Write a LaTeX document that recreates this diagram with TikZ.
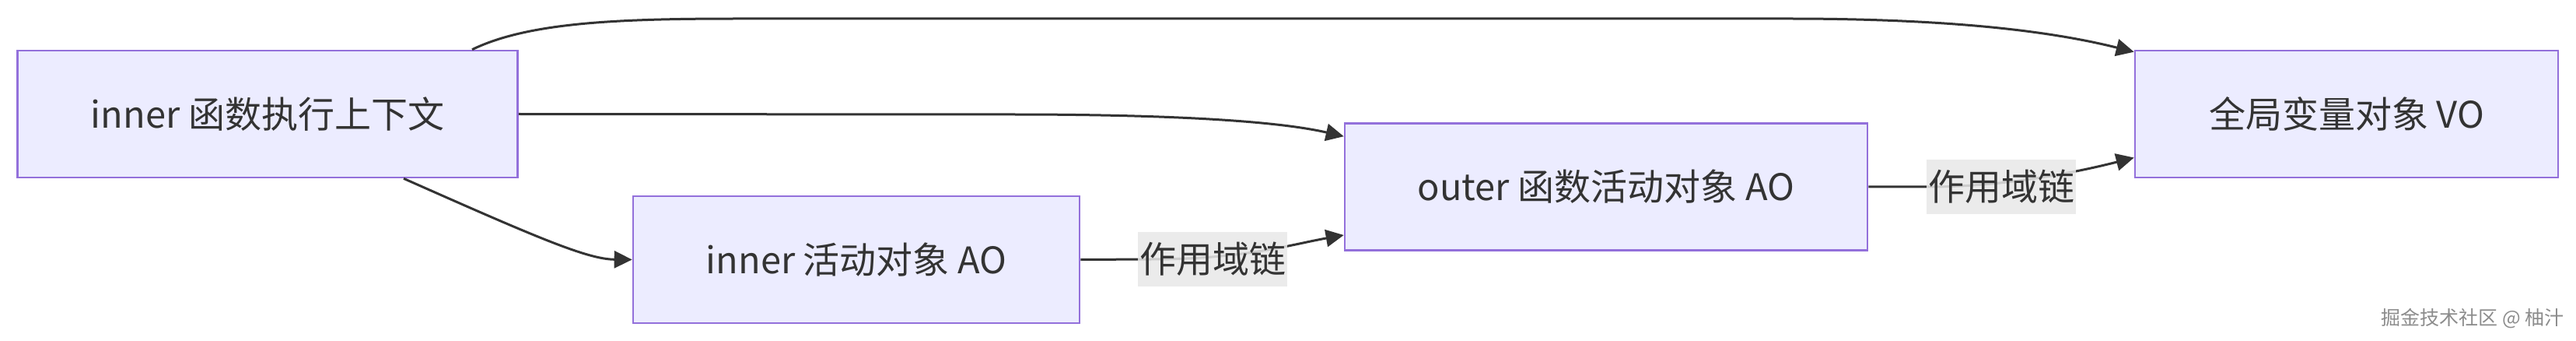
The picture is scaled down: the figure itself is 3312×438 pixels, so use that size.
\documentclass[tikz,border=0pt]{standalone}
\usepackage{fontspec}
\setmainfont{Noto Sans CJK SC}
\usetikzlibrary{positioning,arrows.meta}
\definecolor{mmfill}{HTML}{ECECFF}
\definecolor{mmline}{HTML}{9370DB}
\definecolor{mmtext}{HTML}{333333}
\definecolor{mmlbl}{HTML}{E8E8E8}
\definecolor{mmmark}{HTML}{8C8C8C}
\tikzset{
  blk/.style  ={rectangle, draw=mmline, line width=1.3pt, fill=mmfill, text=mmtext,
                font=\fontsize{23.5}{28}\selectfont, minimum height=81.5pt, inner sep=0pt},
  lnk/.style  ={rectangle, fill=mmlbl, fill opacity=0.85, text opacity=1, text=mmtext,
                font=\fontsize{23.5}{28}\selectfont, minimum height=35pt, minimum width=96pt,
                inner sep=0pt},
  fl/.style   ={-{Triangle[length=11.5pt,width=11pt]}, line width=1.5pt, draw=mmtext},
  wmk/.style  ={font=\fontsize{12.5}{14}\selectfont, text=mmmark, inner sep=0pt}
}

\begin{document}
\begin{tikzpicture}[x=0.5pt,y=-0.5pt]
  \useasboundingbox (0,0) rectangle (3312,438);
  % --- contexts and objects
  \node[blk,minimum width=321.5pt]  (ctx) at (344,146.5)  {inner 函数执行上下文};
  \node[blk,minimum width=287pt]    (iao) at (1101,333.5) {inner 活动对象 AO};
  \node[blk,minimum width=336pt]    (oao) at (2065,240)   {outer 函数活动对象 AO};
  \node[blk,minimum width=272pt]    (gvo) at (3017,146.5) {全局变量对象 VO};

  % --- references from the context
  \draw[fl] ([xshift=131.5pt]ctx.north) .. controls (680,28) and (800,24) .. (950,24)
        -- (2300,24) .. controls (2520,24) and (2645,42) .. ([yshift=-1.5pt]gvo.north west);
  \draw[fl] (ctx.east) -- (1300,147) .. controls (1500,147) and (1640,155) .. ([yshift=-9pt]oao.north west);
  \draw[fl] ([xshift=87.5pt]ctx.south) .. controls (690,305) and (755,333) .. (iao.west);
  % --- scope chain
  \draw[fl] (iao.east) -- (1480,333) .. controls (1600,333) and (1660,314) .. ([yshift=-31pt]oao.west);
  \draw[fl] (oao.east) -- (2480,240) .. controls (2580,240) and (2675,220) .. ([yshift=-28pt]gvo.west);
  \node[lnk] (lk1) at (1559,332.5) {作用域链};
  \node[lnk] (lk2) at (2573,240)   {作用域链};

  \node[wmk] (wm) at (3179,409) {掘金技术社区 @ 柚汁};
\end{tikzpicture}
\end{document}
